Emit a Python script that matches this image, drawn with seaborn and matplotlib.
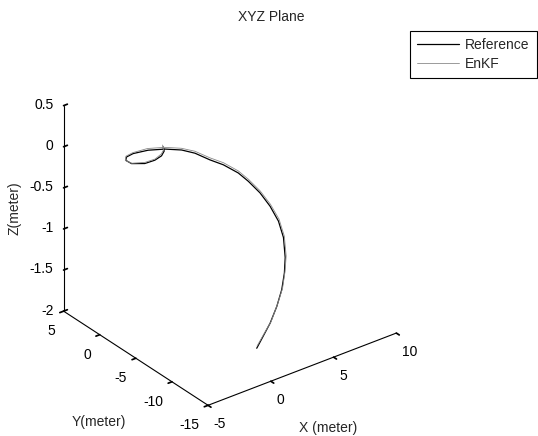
import numpy as np
import matplotlib
matplotlib.use("Agg")
import matplotlib.pyplot as plt
import seaborn as sns

# ---------------- data ----------------
x_ref = [1.83, 2.86, 3.40, 3.80, 4.08, 4.23, 4.42, 4.35, 4.13, 3.83, 3.44, 3.07, 2.38,
         1.77, 1.28, 0.73, -0.10, -1.03, -2.04, -2.64, -2.93, -2.89, -2.22, -1.46,
         -0.79, -0.29, -0.33]
y_ref = [-9.87, -9.94, -9.92, -9.91, -9.79, -9.64, -9.07, -8.50, -7.72, -6.85, -5.91,
         -5.16, -4.29, -3.49, -2.27, -1.38, -0.51, 0.20, 0.52, 0.40, -0.01, -0.74,
         -1.41, -1.48, -1.24, -0.74, -0.66]
z_ref = [-2.00, -1.75, -1.58, -1.40, -1.22, -1.05, -0.85, -0.68, -0.53, -0.40, -0.29,
         -0.21, -0.12, -0.07, -0.03, -0.01, 0.00, 0.00, 0.00, 0.00, 0.00, 0.00, 0.00,
         0.00, 0.00, 0.00, 0.05]

x_enkf = [1.90, 2.95, 3.47, 3.88, 4.15, 4.33, 4.50, 4.41, 4.17, 3.86, 3.47, 3.10, 2.42,
          1.80, 1.30, 0.72, -0.12, -1.06, -2.05, -2.66, -2.95, -2.86, -2.18, -1.43,
          -0.78, -0.30, -0.35]
y_enkf = [-9.80, -9.90, -9.86, -9.88, -9.75, -9.60, -9.05, -8.47, -7.70, -6.82, -5.88,
          -5.12, -4.24, -3.44, -2.22, -1.35, -0.47, 0.24, 0.55, 0.43, 0.02, -0.71,
          -1.38, -1.45, -1.20, -0.71, -0.62]
z_enkf = [-1.98, -1.74, -1.57, -1.39, -1.21, -1.04, -0.84, -0.66, -0.51, -0.38, -0.27,
          -0.19, -0.10, -0.05, -0.01, 0.01, 0.02, 0.02, 0.01, 0.01, 0.00, 0.00, 0.01,
          0.01, 0.02, 0.02, 0.07]

series_labels = ["Reference", "EnKF"]
x_ticks = [-5, 0, 5, 10]
y_ticks = [-15, -10, -5, 0, 5]
z_ticks = [-2, -1.5, -1, -0.5, 0, 0.5]
x_lim = (-5, 10)
y_lim = (-15, 5)
z_lim = (-2, 0.5)
title_text = "XYZ Plane"
x_label = "X (meter)"
y_label = "Y(meter)"
z_label = "Z(meter)"

# ---------------- style ----------------
sns.set_theme(style="white")
plt.rcParams["font.family"] = ["Liberation Sans", "DejaVu Sans"]
plt.rcParams["axes.unicode_minus"] = False
FS = 10

W, H = 538, 436
fig = plt.figure(figsize=(W / 100, H / 100), dpi=100)
fig.patch.set_facecolor("white")
ax = fig.add_axes([0.1, 0.1, 0.8, 0.8], projection="3d")
ax.set_facecolor((1, 1, 1, 0))
ax.set_proj_type("ortho")
ax.view_init(elev=30, azim=-127.5)
ax.set_box_aspect((1, 1, 1))

palette = sns.color_palette(["#000000", "#8a8a8a"])
ax.plot(x_ref, y_ref, z_ref, color=palette[0], lw=0.9, label=series_labels[0])
ax.plot(x_enkf, y_enkf, z_enkf, color=palette[1], lw=0.6, label=series_labels[1])

ax.set_xlim(*x_lim)
ax.set_ylim(*y_lim)
ax.set_zlim(*z_lim)
ax.set_xticks(x_ticks)
ax.set_yticks(y_ticks)
ax.set_zticks(z_ticks)
ax.set_xticklabels([f"{t:g}" for t in x_ticks], ha="left", va="top")
ax.set_yticklabels([f"{t:g}" for t in y_ticks], ha="right", va="top")
ax.set_zticklabels([f"{t:g}" for t in z_ticks], ha="right", va="center")
ax.grid(False)
for axis in (ax.xaxis, ax.yaxis, ax.zaxis):
    axis.set_pane_color((1, 1, 1, 0))
    axis.pane.set_edgecolor((1, 1, 1, 0))
    axis.line.set_color("black")
    axis.line.set_linewidth(0.8)
for axis in (ax.xaxis, ax.yaxis):
    axis._axinfo["tick"]["inward_factor"] = 0.25
    axis._axinfo["tick"]["outward_factor"] = 0.0
ax.zaxis._axinfo["tick"]["inward_factor"] = 0.0
ax.zaxis._axinfo["tick"]["outward_factor"] = 0.25
ax.tick_params(axis="x", labelsize=FS, colors="black", width=0.8, pad=-2)
ax.tick_params(axis="y", labelsize=FS, colors="black", width=0.8, pad=-1)
ax.tick_params(axis="z", labelsize=FS, colors="black", width=0.8, pad=-3.5)

# ---------------- place the cube like the reference ----------------
corners = np.array([[x_lim[0], y_lim[0], z_lim[0]],
                    [x_lim[1], y_lim[0], z_lim[0]],
                    [x_lim[0], y_lim[1], z_lim[1]]])
targets = np.array([[208, H - 405], [396, H - 334], [64, H - 105]], dtype=float)


def projected():
    fig.canvas.draw()
    M = ax.get_proj()
    out = []
    for c in corners:
        v = M @ np.array([c[0], c[1], c[2], 1.0])
        out.append(ax.transData.transform((v[0] / v[3], v[1] / v[3])))
    return np.array(out)


for _ in range(2):
    p = projected()
    pos = ax.get_position()
    w0 = pos.width * W
    c0 = np.array([(pos.x0 + pos.width / 2) * W, (pos.y0 + pos.height / 2) * H])
    q = (p - c0) / w0
    qm, tm = q.mean(axis=0), targets.mean(axis=0)
    w1 = np.sum((q - qm) * (targets - tm)) / np.sum((q - qm) ** 2)
    c1 = tm - w1 * qm
    ax.set_position([(c1[0] - w1 / 2) / W, (c1[1] - w1 / 2) / H, w1 / W, w1 / H])

# ---------------- text ----------------
fig.text(271 / W, 1 - 17 / H, title_text, ha="center", va="center", fontsize=FS)
fig.text(328 / W, 1 - 428 / H, x_label, ha="center", va="center", fontsize=FS)
fig.text(99 / W, 1 - 422 / H, y_label, ha="center", va="center", fontsize=FS)
fig.text(15 / W, 1 - 208 / H, z_label, ha="center", va="center", fontsize=FS, rotation=90)

leg = fig.legend(loc="upper right", bbox_to_anchor=(537 / W, 1 - 31 / H),
                 bbox_transform=fig.transFigure, borderaxespad=0, fontsize=FS,
                 frameon=True, fancybox=False, framealpha=1, edgecolor="black",
                 handlelength=3.0, handletextpad=0.45, labelspacing=0.32, borderpad=0.53)
leg.get_frame().set_linewidth(0.8)

fig.savefig("out.png", dpi=100, facecolor="white")
